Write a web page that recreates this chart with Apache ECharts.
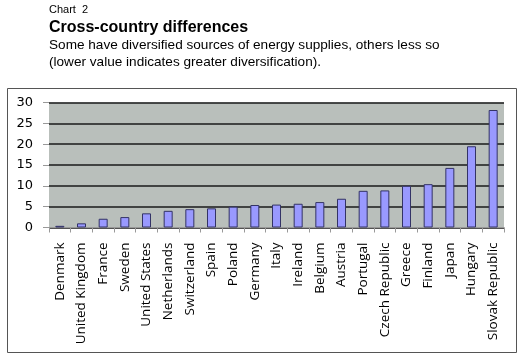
<!DOCTYPE html>
<html><head><meta charset="utf-8">
<script src="https://cdn.jsdelivr.net/npm/echarts@6/dist/echarts.min.js"></script>
<style>html,body{margin:0;padding:0;background:#fff}#c{width:522px;height:360px}</style>
</head><body><div id="c"></div>
<script>
const categories = ["Denmark","United Kingdom","France","Sweden","United States","Netherlands","Switzerland","Spain","Poland","Germany","Italy","Ireland","Belgium","Austria","Portugal","Czech Republic","Greece","Finland","Japan","Hungary","Slovak Republic"];
const values = [0.4,1.0,2.1,2.5,3.4,4.0,4.4,4.6,5.0,5.4,5.5,5.7,6.1,6.9,8.8,8.9,10.0,10.4,14.3,19.5,28.2];
const yTicks = [0,5,10,15,20,25,30];

const chart = echarts.init(document.getElementById('c'), null, {renderer:'canvas'});
chart.setOption({
  animation:false,
  backgroundColor:'#fff',
  graphic:[
    {type:'rect', shape:{x:7.5,y:88.5,width:509,height:264}, style:{fill:'none',stroke:'#555',lineWidth:1}},
    {type:'text', left:49, top:4, style:{text:'Chart  2', font:'11px "Liberation Sans"', fill:'#000'}},
    {type:'text', left:49, top:20, style:{text:'Cross-country differences', font:'bold 16px "Liberation Sans"', fill:'#000'}},
    {type:'text', left:49, top:37, style:{text:'Some have diversified sources of energy supplies, others less so\n(lower value indicates greater diversification).', font:'13.6px "Liberation Sans"', lineHeight:17, fill:'#000'}}
  ],
  grid:{left:49, right:18, top:102.5, bottom:132.5, show:true, backgroundColor:'#b9bfbb', borderWidth:0},
  xAxis:{type:'category', data:categories,
    axisLine:{show:true, lineStyle:{color:'#999'}},
    axisTick:{show:true, length:5, lineStyle:{color:'#999'}},
    axisLabel:{rotate:90, interval:0, margin:15, color:'#000', fontFamily:'Open Sans', fontSize:13.5}
  },
  yAxis:{type:'value', min:0, max:30, interval:5,
    axisLine:{show:false},
    axisTick:{show:true, length:6, lineStyle:{color:'#999'}},
    axisLabel:{margin:16, color:'#000', fontFamily:'DejaVu Sans', fontSize:13,
      formatter:v=>yTicks.includes(v)?String(v):''},
    splitLine:{show:true, lineStyle:{color:'#1a1a1a', width:1.5}}
  },
  series:[{type:'bar', data:values, barWidth:9,
    itemStyle:{color:'#9999ff', borderColor:'#333366', borderWidth:1}}]
});
</script></body></html>
